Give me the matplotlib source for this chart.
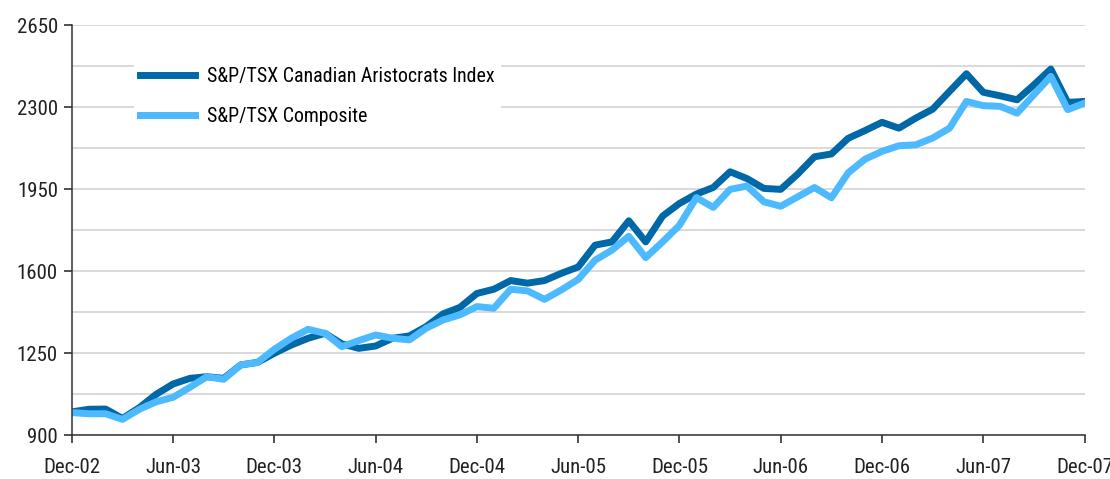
import matplotlib.pyplot as plt
import numpy as np
from matplotlib import font_manager

# Month-end index levels, Dec-02 .. Dec-07 (61 points)
aristocrats = [
    1000, 1011, 1012, 972, 1018, 1075, 1119, 1143, 1150, 1143,
    1200, 1211, 1250, 1285, 1314, 1335, 1290, 1271, 1281, 1314,
    1324, 1364, 1418, 1446, 1505, 1523, 1560, 1549, 1560, 1591,
    1618, 1711, 1725, 1815, 1725, 1835, 1889, 1929, 1957, 2024,
    1995, 1953, 1949, 2014, 2088, 2100, 2167, 2200, 2235, 2210,
    2253, 2291, 2367, 2442, 2363, 2348, 2331, 2395, 2462, 2320,
    2324,
]
composite = [
    997, 992, 992, 968, 1011, 1043, 1062, 1105, 1150, 1139,
    1200, 1211, 1267, 1314, 1352, 1335, 1278, 1304, 1328, 1314,
    1307, 1357, 1392, 1414, 1449, 1442, 1523, 1516, 1480, 1520,
    1565, 1647, 1690, 1749, 1658, 1725, 1796, 1914, 1872, 1949,
    1963, 1896, 1877, 1917, 1957, 1913, 2020, 2078, 2111, 2135,
    2139, 2168, 2210, 2324, 2306, 2303, 2274, 2353, 2431, 2289,
    2317,
]
tick_labels = ["Dec-02", "Jun-03", "Dec-03", "Jun-04", "Dec-04", "Jun-05",
               "Dec-05", "Jun-06", "Dec-06", "Jun-07", "Dec-07"]
y_ticks = [900, 1250, 1600, 1950, 2300, 2650]
series_names = ["S&P/TSX Canadian Aristocrats Index", "S&P/TSX Composite"]

DARK = "#0068A6"
LIGHT = "#4DB9FF"

# reference uses a narrow sans; take one if installed
installed = {f.name for f in font_manager.fontManager.ttflist}
family = "Liberation Sans"
for cand in ("Liberation Sans Narrow", "Roboto Condensed", "Open Sans Condensed",
             "Noto Sans Condensed", "DejaVu Sans Condensed"):
    if cand in installed:
        family = cand
        break
plt.rcParams['font.family'] = [family, 'DejaVu Sans']

fig = plt.figure(figsize=(11.1, 4.79), dpi=100)
ax = fig.add_axes([0.0647, 0.0912, 0.9124, 0.8566])

months = np.arange(len(aristocrats))
ax.plot(months, aristocrats, color=DARK, lw=5, label=series_names[0])
ax.plot(months, composite, color=LIGHT, lw=5, label=series_names[1])

ax.set_xlim(0, 60)
ax.set_ylim(900, 2650)
ax.set_xticks(np.arange(0, 61, 6))
ax.set_xticklabels(tick_labels)
ax.set_yticks(y_ticks)
ax.set_yticks(np.arange(1075, 2650, 350), minor=True)
ax.tick_params(axis='y', which='minor', length=0)
ax.tick_params(axis='both', which='major', labelsize=15, colors="#222222",
               length=6, width=1.1)
ax.tick_params(axis='x', pad=10)
ax.tick_params(axis='y', pad=4)
ax.grid(True, axis='y', which='both', color="#d0d0d0", lw=1.1)
ax.set_axisbelow(True)

for side in ("top", "right"):
    ax.spines[side].set_visible(False)
for side in ("left", "bottom"):
    ax.spines[side].set_color("#333333")
    ax.spines[side].set_linewidth(1.1)

leg = ax.legend(loc="upper left", bbox_to_anchor=(0.061, 0.914), fontsize=14.3,
                frameon=True, fancybox=False, handlelength=2.76,
                handletextpad=0.6, labelspacing=1.06, borderpad=0.32,
                borderaxespad=0)
leg.get_frame().set_edgecolor("none")
leg.get_frame().set_facecolor("white")
leg.get_frame().set_alpha(1)

fig.savefig("out.png", dpi=100)
